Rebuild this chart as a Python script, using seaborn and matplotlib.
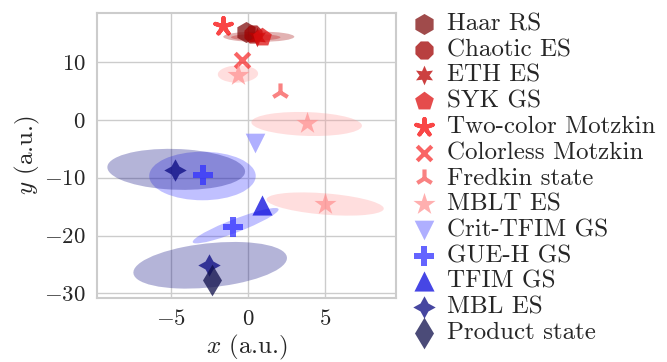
import numpy as np
import pandas as pd
import seaborn as sns
import matplotlib.pyplot as plt
from matplotlib.patches import Ellipse

sns.set_theme(style="whitegrid")
plt.rcParams["font.family"] = ["serif"]
plt.rcParams["font.serif"] = ["cmr10"]
plt.rcParams["mathtext.fontset"] = "cm"
plt.rcParams["axes.formatter.use_mathtext"] = True

labels = ["Haar RS", "Chaotic ES", "ETH ES", "SYK GS", "Two-color Motzkin",
          "Colorless Motzkin", "Fredkin state", "MBLT ES", "Crit-TFIM GS",
          "GUE-H GS", "TFIM GS", "MBL ES", "Product state"]
colors = ["#800f0f", "#a00000", "#bb0000", "#dd1010", "#f80808",
          "#f83030", "#f85858", "#ff9494", "#9494ff",
          "#3030ff", "#0808dd", "#080880", "#0f0f4b"]
markers = ["h", "8", (6, 1, 0), "p", (5, 2, 0), "x", "2", "*", "v",
           "P", "^", (4, 1, 0), "d"]
sizes = [230, 200, 200, 200, 150, 110, 170, 280, 200, 190, 210, 260, 260]

# point coordinates per state family
px = {"Haar RS": [-0.1], "Chaotic ES": [0.3], "ETH ES": [0.6], "SYK GS": [0.9],
      "Two-color Motzkin": [-1.6], "Colorless Motzkin": [-0.4],
      "Fredkin state": [2.1], "MBLT ES": [-0.65, 3.8, 5.0],
      "Crit-TFIM GS": [0.45], "GUE-H GS": [-2.9, -1.0], "TFIM GS": [0.9],
      "MBL ES": [-4.7, -2.5], "Product state": [-2.3]}
py = {"Haar RS": [15.2], "Chaotic ES": [14.8], "ETH ES": [14.4], "SYK GS": [14.3],
      "Two-color Motzkin": [16.3], "Colorless Motzkin": [10.4],
      "Fredkin state": [4.9], "MBLT ES": [7.8, -0.5, -14.5],
      "Crit-TFIM GS": [-4.0], "GUE-H GS": [-9.5, -18.5], "TFIM GS": [-14.8],
      "MBL ES": [-8.7, -25.1], "Product state": [-27.7]}

# spread ellipses: label, cx, cy, width, height, angle
ell_label = ["Chaotic ES", "ETH ES", "MBLT ES", "MBLT ES", "MBLT ES",
             "GUE-H GS", "GUE-H GS", "MBL ES", "MBL ES"]
ell_cx = [0.7, 0.5, -0.65, 3.8, 5.0, -2.95, -0.8, -4.65, -2.45]
ell_cy = [14.4, 14.3, 7.95, -0.7, -14.55, -9.7, -18.3, -8.55, -25.15]
ell_w = [4.6, 3.2, 2.6, 7.2, 7.8, 6.9, 8.1, 9.0, 10.6]
ell_h = [1.8, 1.1, 3.0, 4.1, 3.6, 8.4, 1.7, 7.0, 7.2]
ell_ang = [0, 0, -10, -7, -15, 0, 48, -12, 28]

fig, ax = plt.subplots(figsize=(6.67, 3.62), dpi=100)
fig.subplots_adjust(left=0.145, right=0.594, top=0.964, bottom=0.177)

cmap = dict(zip(labels, colors))
for lab, cx, cy, w, h, a in zip(ell_label, ell_cx, ell_cy, ell_w, ell_h, ell_ang):
    ax.add_patch(Ellipse((cx, cy), w, h, angle=a, facecolor=cmap[lab],
                         edgecolor="none", alpha=0.3, zorder=1))

for lab, c, m, s in zip(labels, colors, markers, sizes):
    df = pd.DataFrame({"x": px[lab], "y": py[lab]})
    filled = m not in ("x", "2") and not (isinstance(m, tuple) and m[1] == 2)
    if filled:
        sns.scatterplot(data=df, x="x", y="y", marker=m, color=c, s=s,
                        alpha=0.75, linewidth=0, label=lab, ax=ax, zorder=3)
    else:
        ax.scatter(df["x"], df["y"], marker=m, color=c, s=s, alpha=0.75,
                   linewidths=3, label=lab, zorder=3)

ax.set_xlim(-9.8, 9.6)
ax.set_ylim(-30.8, 18.5)
ax.set_xticks([-5, 0, 5])
ax.set_yticks([-30, -20, -10, 0, 10])
ax.set_xlabel("$x$ (a.u.)", fontsize=18, labelpad=3)
ax.set_ylabel("$y$ (a.u.)", fontsize=18, labelpad=1)
ax.tick_params(labelsize=16.5, pad=2)
for sp in ax.spines.values():
    sp.set_color("#cccccc")
    sp.set_linewidth(1.5)

ax.legend(loc="upper left", bbox_to_anchor=(0.985, 1.062), frameon=False,
          fontsize=18, labelspacing=0.13, handlelength=1.2,
          handletextpad=0.32, borderaxespad=0.3)

fig.savefig("out.png", dpi=100)
